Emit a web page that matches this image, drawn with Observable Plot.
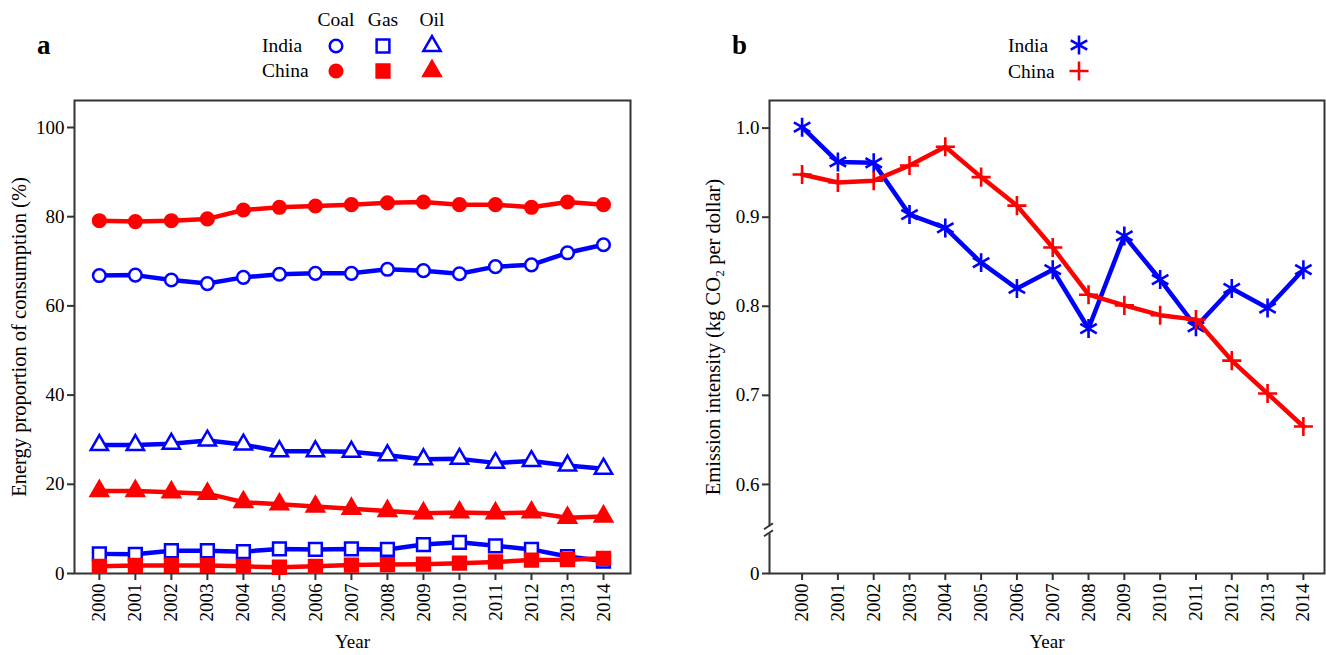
<!DOCTYPE html>
<html><head><meta charset="utf-8">
<script src="https://cdn.jsdelivr.net/npm/d3@7"></script>
<script src="https://cdn.jsdelivr.net/npm/@observablehq/plot@0.6"></script>
<style>
body{margin:0;background:#fff;font-family:"Liberation Serif","Times New Roman",serif;}
#wrap{position:relative;width:1326px;height:655px;overflow:hidden;background:#fff}
.panel{position:absolute;top:0}
.panel svg text{font-family:"Liberation Serif","Times New Roman",serif !important;font-size:19px !important;fill:#000}
.panel svg g[aria-label="y-axis label"] text{font-size:20.5px !important}
.tag{position:absolute;font-weight:bold;font-size:27px;color:#000;line-height:1}
#legend{position:absolute;left:0;top:0}
</style></head><body>
<div id="wrap">
  <div id="pa" class="panel" style="left:0"></div>
  <div id="pb" class="panel" style="left:663px"></div>
  <svg id="legend" width="1326" height="95"></svg>
  <div class="tag" style="left:37px;top:32px">a</div>
  <div class="tag" style="left:732px;top:32px">b</div>
</div>
<script>
// ---------- data ----------
const years = [2000,2001,2002,2003,2004,2005,2006,2007,2008,2009,2010,2011,2012,2013,2014];
const indiaCoal = [66.8,66.9,65.8,65.0,66.4,67.1,67.3,67.3,68.2,67.9,67.2,68.8,69.2,71.9,73.7];
const indiaGas  = [4.4,4.3,5.1,5.1,4.9,5.5,5.4,5.5,5.4,6.5,7.0,6.2,5.4,3.8,2.8];
const indiaOil  = [28.8,28.8,29.1,29.8,28.9,27.4,27.4,27.3,26.5,25.6,25.7,24.8,25.2,24.2,23.5];
const chinaCoal = [79.1,78.9,79.1,79.5,81.5,82.1,82.4,82.7,83.1,83.3,82.7,82.7,82.1,83.3,82.7];
const chinaGas  = [1.6,1.8,1.8,1.8,1.6,1.4,1.6,1.9,2.0,2.1,2.3,2.6,3.0,3.1,3.4];
const chinaOil  = [18.5,18.5,18.2,17.9,16.0,15.5,15.0,14.5,14.0,13.5,13.7,13.5,13.7,12.5,12.8];
const indiaIntensity = [1.001,0.962,0.961,0.903,0.888,0.849,0.820,0.841,0.775,0.879,0.830,0.777,0.820,0.798,0.841];
const chinaIntensity = [0.948,0.939,0.941,0.958,0.979,0.945,0.913,0.866,0.813,0.801,0.790,0.785,0.739,0.702,0.665];
const countries = ["India","China"];
const fuels = ["Coal","Gas","Oil"];
const yTicksA = [0,20,40,60,80,100];
const yTicksB = [0.5,0.6,0.7,0.8,0.9,1.0];

// ---------- styles ----------
const BLUE = "#0000ff", RED = "#ff0000", AX = "#333";
const colorOf = {India: BLUE, China: RED};
const symbolOf = {Coal: "circle", Gas: "square", Oil: "triangle"};
const rOf = {Coal: 6.3, Gas: 7.2, Oil: 6.4};
const series = {
  India: {Coal: indiaCoal, Gas: indiaGas, Oil: indiaOil},
  China: {Coal: chinaCoal, Gas: chinaGas, Oil: chinaOil}
};
const rowsA = [];
for (const c of countries) for (const f of fuels)
  years.forEach((y, i) => rowsA.push({year: y, value: series[c][f][i], country: c, fuel: f}));
const rowsB = [];
years.forEach((y, i) => {
  rowsB.push({year: y, value: indiaIntensity[i], country: "India"});
  rowsB.push({year: y, value: chinaIntensity[i], country: "China"});
});

const font = {fontFamily: "Liberation Serif, Times New Roman, serif", fontSize: "19px", color: "#000", background: "white"};

// ---------- panel a ----------
const marksA = [
  Plot.frame({stroke: AX, strokeWidth: 2}),
  Plot.axisY({ticks: yTicksA, tickSize: 7, tickPadding: 3, stroke: AX, strokeWidth: 2,
    label: "Energy proportion of consumption (%)", labelAnchor: "center", labelArrow: "none", labelOffset: 63}),
  Plot.axisX({ticks: years, tickFormat: d => String(d), tickRotate: -90, tickSize: 7, tickPadding: 3, stroke: AX, strokeWidth: 2,
    label: "Year", labelAnchor: "center", labelArrow: "none", labelOffset: 74})
];
for (const c of countries) {
  for (const f of fuels) {
    const d = rowsA.filter(r => r.country === c && r.fuel === f);
    marksA.push(Plot.line(d, {x: "year", y: "value", stroke: colorOf[c], strokeWidth: 4.5}));
    marksA.push(Plot.dot(d, {x: "year", y: "value", symbol: symbolOf[f], r: rOf[f],
      stroke: colorOf[c], strokeWidth: 2.5, fill: c === "India" ? "white" : colorOf[c]}));
  }
}
const chartA = Plot.plot({
  width: 663, height: 655, marginLeft: 74, marginRight: 33, marginTop: 100, marginBottom: 82,
  style: font,
  x: {domain: [1999.31, 2014.75]},
  y: {domain: [0, 106.05]},
  marks: marksA
});
document.getElementById("pa").append(chartA);

// ---------- panel b ----------
function axisBreak(index, scales, values, dims) {
  const y = scales.y(0.548), x = dims.marginLeft;
  const g = d3.create("svg:g");
  g.append("rect").attr("x", x - 3).attr("y", y - 4).attr("width", 6).attr("height", 7).attr("fill", "white");
  g.append("path")
    .attr("d", `M${x-5},${y-1}L${x+4},${y-7}M${x-5},${y+6}L${x+4},${y}`)
    .attr("stroke", AX).attr("stroke-width", 2).attr("fill", "none");
  return g.node();
}
const marksB = [
  Plot.frame({stroke: AX, strokeWidth: 2}),
  Plot.axisY({ticks: yTicksB, tickFormat: d => d === 0.5 ? "0" : d.toFixed(1), tickSize: 7, tickPadding: 3, stroke: AX, strokeWidth: 2,
    label: "Emission intensity (kg CO\u2082 per dollar)", labelAnchor: "center", labelArrow: "none", labelOffset: 64}),
  Plot.axisX({ticks: years, tickFormat: d => String(d), tickRotate: -90, tickSize: 7, tickPadding: 3, stroke: AX, strokeWidth: 2,
    label: "Year", labelAnchor: "center", labelArrow: "none", labelOffset: 74}),
  axisBreak
];
const symB = {India: "asterisk", China: "plus"};
const rB = {India: 9, China: 6.2};
for (const c of countries) {
  const d = rowsB.filter(r => r.country === c);
  marksB.push(Plot.line(d, {x: "year", y: "value", stroke: colorOf[c], strokeWidth: 4.5}));
  marksB.push(Plot.dot(d, {x: "year", y: "value", symbol: symB[c], r: rB[c], stroke: colorOf[c], strokeWidth: 2.6, fill: "none"}));
}
const chartB = Plot.plot({
  width: 663, height: 655, marginLeft: 106, marginRight: 2, marginTop: 100, marginBottom: 82,
  style: font,
  x: {domain: [1999.09, 2014.59]},
  y: {domain: [0.5, 1.031]},
  marks: marksB
});
document.getElementById("pb").append(chartB);

// ---------- legends ----------
const lg = d3.select("#legend");
const tFont = "Liberation Serif, Times New Roman, serif";
function txt(x, y, s, anchor) {
  lg.append("text").attr("x", x).attr("y", y).attr("font-family", tFont).attr("font-size", 19.5)
    .attr("text-anchor", anchor || "start").attr("fill", "#000").text(s);
}
const symType = {circle: d3.symbolCircle, square: d3.symbolSquare, triangle: d3.symbolTriangle,
  asterisk: d3.symbolAsterisk, plus: d3.symbolPlus};
function sym(x, y, type, r, stroke, fill, sw) {
  lg.append("path").attr("transform", `translate(${x},${y})`)
    .attr("d", d3.symbol(symType[type], r * r * Math.PI)())
    .attr("stroke", stroke).attr("fill", fill).attr("stroke-width", sw);
}
const fuelX = {Coal: 336, Gas: 383, Oil: 432};
for (const f of fuels) txt(fuelX[f], 26, f, "middle");
const rowY = {India: 46, China: 71};
for (const c of countries) {
  txt(262, rowY[c] + 6, c);
  for (const f of fuels) sym(fuelX[f], rowY[c], symbolOf[f], rOf[f], colorOf[c], c === "India" ? "white" : colorOf[c], 2.5);
}
const rowYB = {India: 45, China: 71};
for (const c of countries) {
  txt(1008, rowYB[c] + 7, c);
  sym(1079, rowYB[c], symB[c], rB[c], colorOf[c], "none", 2.6);
}
</script>
</body></html>
